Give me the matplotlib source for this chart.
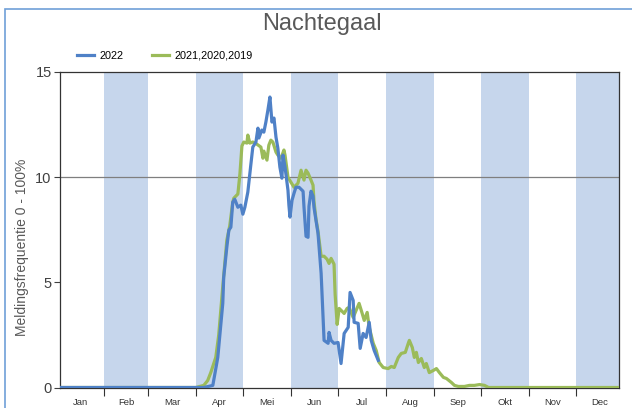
import matplotlib
matplotlib.use("Agg")
import matplotlib.pyplot as plt
from matplotlib.patches import Rectangle
import numpy as np

plt.rcParams['font.family'] = ['Liberation Sans', 'DejaVu Sans']

title = "Nachtegaal"
ylabel = "Meldingsfrequentie 0 - 100%"
months = ["Jan", "Feb", "Mar", "Apr", "Mei", "Jun", "Jul", "Aug", "Sep", "Okt", "Nov", "Dec"]
month_days = [31, 28, 31, 30, 31, 30, 31, 31, 30, 31, 30, 31]
series_names = ["2022", "2021,2020,2019"]
yticks = [0, 5, 10, 15]

# day of year (0-365) and frequency values
day_2022 = [0, 94.9, 100.7, 103.9, 107.1, 107.7, 109.7, 111.0, 112.3, 113.5, 114.8, 116.8,
            118.7, 120.0, 121.3, 123.2, 125.1, 126.4, 128.4, 129.7, 130.3, 132.2, 133.5,
            134.8, 136.1, 137.4, 138.7, 140.0, 141.3, 142.5, 143.8, 145.1, 145.8, 147.1,
            149.0, 149.6, 150.3, 151.6, 152.9, 154.1, 156.1, 158.7, 159.3, 160.6, 161.9,
            162.5, 163.8, 165.1, 165.7, 168.3, 170.3, 172.2, 174.8, 175.4, 176.7, 178.6,
            181.2, 183.1, 185.1, 187.7, 188.9, 190.9, 191.5, 194.1, 195.4, 197.3, 199.2,
            201.2, 202.5, 204.4, 207.0]
val_2022 = [0, 0, 0.1, 1.43, 4.0, 5.24, 6.67, 7.48, 7.62, 8.81, 8.95, 8.57,
            8.67, 8.24, 8.57, 9.29, 10.57, 11.43, 11.67, 12.33, 11.86, 12.24, 12.14,
            12.62, 13.19, 13.81, 12.62, 12.81, 11.90, 11.38, 10.48, 9.95, 11.05, 10.48,
            9.38, 8.67, 8.10, 8.90, 9.24, 9.52, 9.52, 9.33, 8.57, 7.19, 7.14,
            8.62, 9.33, 9.10, 8.57, 7.33, 5.43, 2.24, 2.10, 2.62, 2.24, 2.10,
            2.14, 1.14, 2.57, 2.86, 4.52, 4.14, 3.10, 3.05, 1.86, 2.57, 2.38,
            3.10, 2.24, 1.76, 1.29]

day_prev = [0, 89.7, 94.9, 97.4, 99.4, 101.3, 102.6, 104.5, 107.1, 109.7, 111.6, 113.5,
            114.2, 116.8, 118.1, 119.4, 120.6, 122.6, 123.2, 124.5, 126.4, 128.4, 131.6,
            132.9, 133.5, 135.5, 136.7, 138.0, 139.3, 141.3, 142.5, 144.5, 146.4, 147.1,
            149.0, 150.9, 152.9, 155.4, 157.4, 159.3, 160.6, 161.9, 163.8, 165.1, 165.7,
            167.0, 168.3, 170.3, 172.2, 174.1, 175.4, 176.7, 178.6, 179.3, 180.6, 181.9,
            183.8, 185.1, 187.0, 188.3, 190.9, 192.8, 194.7, 196.7, 198.0, 199.9, 201.2,
            203.8, 205.7, 207.6, 210.2, 213.4, 215.4, 217.3, 219.9, 221.8, 224.4, 226.3,
            227.0, 228.9, 230.2, 231.5, 232.8, 234.7, 236.6, 237.9, 239.8, 242.4, 244.4,
            246.3, 248.9, 250.8, 254.0, 256.0, 258.5, 262.4, 265.6, 268.8, 272.1, 275.3,
            277.9, 365]
val_prev = [0, 0, 0.1, 0.33, 0.71, 1.14, 1.43, 2.5, 4.8, 7.0, 7.7, 8.8,
            9.0, 9.2, 10.14, 11.48, 11.67, 11.62, 12.0, 11.62, 11.67, 11.6, 11.43,
            10.9, 11.24, 10.81, 11.52, 11.76, 11.67, 11.19, 11.05, 10.90, 11.29, 11.05,
            10.0, 9.76, 9.52, 9.71, 10.33, 9.86, 10.33, 10.19, 9.86, 9.62, 8.86,
            8.0, 7.43, 6.24, 6.24, 6.1, 5.9, 6.14, 5.86, 4.43, 3.0, 3.76,
            3.62, 3.52, 3.76, 3.81, 3.33, 3.67, 4.0, 3.52, 3.19, 3.57, 2.86,
            2.10, 1.76, 1.19, 0.95, 0.90, 1.0, 0.95, 1.43, 1.62, 1.67, 2.10,
            2.24, 1.90, 1.43, 1.67, 1.19, 1.38, 0.95, 1.14, 0.71, 0.81, 0.90,
            0.71, 0.48, 0.43, 0.24, 0.10, 0.05, 0.05, 0.10, 0.10, 0.14, 0.10,
            0, 0]

BLUE = "#4f81c7"
GREEN = "#9bbb59"
BAND = "#c6d6ec"

fig = plt.figure(figsize=(6.32, 4.08), dpi=100)
ax = fig.add_axes([60/632, 1-387.5/408, (618.5-60)/632, (387.5-72)/408])

edges = np.concatenate([[0], np.cumsum(month_days)])
centers = (edges[:-1] + edges[1:]) / 2
for i in range(1, 12, 2):
    ax.axvspan(edges[i], edges[i+1], color=BAND, lw=0, zorder=0)

ax.axhline(10, color="#7f7f7f", lw=0.9, zorder=1)

ax.plot(day_prev, val_prev, color=GREEN, lw=2.3, solid_joinstyle='round', zorder=3,
        label=series_names[1])
ax.plot(day_2022, val_2022, color=BLUE, lw=2.3, solid_joinstyle='round', zorder=4,
        label=series_names[0])

ax.set_xlim(2.5, 361.4)
ax.set_ylim(0, 15)
ax.set_yticks(yticks)
ax.set_yticklabels([str(t) for t in yticks], fontsize=10.5, color="#404040")
ax.tick_params(axis='y', length=4, width=0.8, color="#404040", pad=2)

ax.set_xticks(edges[1:12])
ax.set_xticklabels([])
ax.set_xticks(centers, minor=True)
ax.set_xticklabels(months, minor=True, fontsize=6.8, color="#333333")
ax.tick_params(axis='x', which='major', length=5.5, width=0.8, color="#333333")
ax.tick_params(axis='x', which='minor', length=0, pad=7.5)

for s in ax.spines.values():
    s.set_color("#333333")
    s.set_linewidth(0.9)

ax.set_ylabel(ylabel, fontsize=10, color="#595959")
ax.yaxis.set_label_coords(-0.056, (387.5-247)/315.5)

fig.text(322/632, 1-24/408, title, ha='center', va='center', fontsize=17, color="#595959")

h1, = ax.plot([], [], color=BLUE, lw=2.3)
h2, = ax.plot([], [], color=GREEN, lw=2.3)
fig.legend([h1, h2], series_names, loc='center left', bbox_to_anchor=(77/632, 1-56/408),
           ncol=2, frameon=False, fontsize=7.8, handlelength=1.6, handletextpad=0.5,
           columnspacing=2.6, borderpad=0, borderaxespad=0)

border = Rectangle((5/632, -0.1), 1.2, 1 - 9/408 + 0.1, transform=fig.transFigure,
                   fill=False, edgecolor="#6f9fd8", lw=1.2, clip_on=False)
fig.patches.append(border)

fig.savefig("out.png", dpi=100)
